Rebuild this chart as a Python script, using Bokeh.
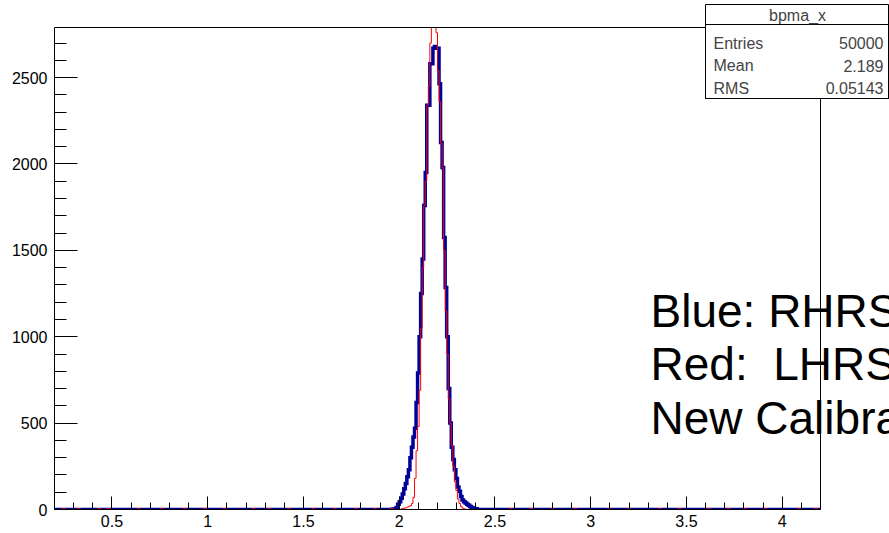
import numpy as np
from bokeh.plotting import figure
from bokeh.models import Range1d, FixedTicker, BoxAnnotation, Label
from bokeh.embed import file_html
from bokeh.resources import INLINE

# ---------------- data ----------------
x_min, x_max, n_bins = 0.2, 4.2, 500
y_max = 2790

# blue histogram (RHRS): counts for bins starting at bin index 220
blue_start_bin = 220
blue_peak = [2, 3, 5, 12, 30, 45, 65, 90, 120, 150,
             190, 230, 300, 360, 420, 470, 620, 790, 1000, 1250,
             1450, 1760, 1950, 2340, 2340, 2580, 2580, 2670, 2680, 2670,
             2670, 2465, 2124, 1979, 1574, 1285, 1000, 700, 500, 360,
             290, 230, 180, 130, 105, 75, 55, 45, 38, 30,
             25, 18, 12, 9, 6, 4]

# red histogram (LHRS): counts for bins starting at bin index 226
red_start_bin = 226
red_peak = [3, 5, 8, 10, 14, 18, 22, 35, 70, 180,
            340, 480, 690, 1050, 1400, 1760, 1900, 2340, 2450, 2700,
            2900, 2950, 2880, 2760, 2540, 2360, 2120, 1980, 1500, 1150,
            900, 640, 500, 370, 250, 160, 110, 60, 35, 18,
            8, 4, 2]

# small red bumps along the baseline (x position of bump, count)
red_tail_x = [0.242, 0.325, 0.430, 0.477, 0.634, 0.754, 0.875, 0.979, 1.084,
              1.235, 1.314, 1.419, 1.544, 1.659, 1.774, 1.868, 1.957,
              2.580, 2.684, 2.794, 2.914, 3.092, 3.192, 3.354, 3.458, 3.610,
              3.715, 3.804, 3.908, 4.086, 4.170]
red_tail_count = [5] * len(red_tail_x)

x_ticks = [0.5, 1.0, 1.5, 2.0, 2.5, 3.0, 3.5, 4.0]
x_tick_labels = ["0.5", "1", "1.5", "2", "2.5", "3", "3.5", "4"]
x_minor = [0.2, 0.3, 0.4, 0.6, 0.7, 0.8, 0.9, 1.1, 1.2, 1.3, 1.4, 1.6, 1.7, 1.8, 1.9,
           2.1, 2.2, 2.3, 2.4, 2.6, 2.7, 2.8, 2.9, 3.1, 3.2, 3.3, 3.4, 3.6, 3.7, 3.8,
           3.9, 4.1, 4.2]
y_ticks = [0, 500, 1000, 1500, 2000, 2500]
y_minor = [100, 200, 300, 400, 600, 700, 800, 900, 1100, 1200, 1300, 1400,
           1600, 1700, 1800, 1900, 2100, 2200, 2300, 2400, 2600, 2700]

stats_title = "bpma_x"
stats_names = ["Entries", "Mean", "RMS"]
stats_values = ["50000", "2.189", "0.05143"]
note_lines = ["Blue: RHRS", "Red: \u00a0LHRS", "New Calibration"]

# ---------------- build histograms ----------------
edges = np.linspace(x_min, x_max, n_bins + 1)
blue = np.zeros(n_bins)
blue[blue_start_bin:blue_start_bin + len(blue_peak)] = blue_peak
red = np.zeros(n_bins)
for xb, c in zip(red_tail_x, red_tail_count):
    b = int((xb - x_min) / (x_max - x_min) * n_bins)
    red[b:b + 2] = c
red[red_start_bin:red_start_bin + len(red_peak)] = red_peak

# ---------------- geometry (pixels) ----------------
FL, FR, FT, FB = 54, 820, 27, 509   # histogram frame
W, H = 889, 533


def sx(px):
    return x_min + (px - FL) / (FR - FL) * (x_max - x_min)


def sy(py):
    return y_max * (FB - py) / (FB - FT)


# the bokeh frame extends to the right and top canvas edges so that the
# stats box and the notes can overflow the histogram frame like in ROOT
p = figure(width=W, height=H, output_backend="svg", toolbar_location=None,
           title=None,
           x_range=Range1d(x_min, sx(W)), y_range=Range1d(0, sy(0)),
           min_border_left=FL, min_border_right=0,
           min_border_top=0, min_border_bottom=H - FB)
p.background_fill_color = "white"
p.border_fill_color = "white"
p.outline_line_color = None
p.xgrid.visible = False
p.ygrid.visible = False

# histograms are clipped at the top of the histogram frame (as ROOT does)
blue_draw = np.minimum(np.append(blue, blue[-1]), y_max)
red_draw = np.minimum(np.append(red, red[-1]), y_max)
p.step(x=edges, y=blue_draw, mode="after",
       line_color="#000099", line_width=3.5, line_join="miter")
p.step(x=edges, y=red_draw, mode="after",
       line_color="#ff0000", line_width=1, line_join="miter")

xa = p.xaxis[0]
xa.bounds = (x_min, x_max)
xa.ticker = FixedTicker(ticks=x_ticks, minor_ticks=x_minor)
xa.major_label_overrides = {t: l for t, l in zip(x_ticks, x_tick_labels)}
xa.major_tick_in = 13
xa.major_tick_out = 0
xa.minor_tick_in = 7
xa.minor_tick_out = 0
xa.major_label_standoff = 5
ya = p.yaxis[0]
ya.bounds = (0, y_max)
ya.ticker = FixedTicker(ticks=y_ticks, minor_ticks=y_minor)
ya.major_tick_in = 23
ya.major_tick_out = 0
ya.minor_tick_in = 12
ya.minor_tick_out = 0
ya.major_label_standoff = 7
for ax in (xa, ya):
    ax.axis_line_color = "black"
    ax.major_tick_line_color = "black"
    ax.minor_tick_line_color = "black"
    ax.major_label_text_font = "Liberation Sans"
    ax.major_label_text_font_size = "16px"
    ax.major_label_text_color = "black"

# histogram frame
p.add_layout(BoxAnnotation(left=x_min, right=x_max, bottom=0, top=y_max,
                           fill_alpha=0.0, line_color="black", line_width=1,
                           line_alpha=1.0))

# notes text
for i, line in enumerate(note_lines):
    p.add_layout(Label(x=sx(650), y=sy(310 + 53.5 * i), text=line,
                       text_font="Liberation Sans", text_font_size="46px",
                       text_color="black", text_align="left",
                       text_baseline="alphabetic"))

# stats box
p.add_layout(BoxAnnotation(left=sx(705), right=sx(888), top=sy(4), bottom=sy(98),
                           fill_color="white", fill_alpha=1.0, line_color="black",
                           line_width=1, line_alpha=1.0, level="overlay"))
p.add_layout(BoxAnnotation(left=sx(705), right=sx(888), top=sy(24), bottom=sy(98),
                           fill_alpha=0.0, line_color="black", line_width=1,
                           line_alpha=1.0, level="overlay"))
p.add_layout(Label(x=sx(797), y=sy(14.5), text=stats_title, text_font="Liberation Sans",
                   text_font_size="16px", text_align="center",
                   text_baseline="alphabetic", level="overlay"))
for i, (nm, vv) in enumerate(zip(stats_names, stats_values)):
    yy = sy(42.5 + 22.5 * i)
    p.add_layout(Label(x=sx(713), y=yy, text=nm, text_font="Liberation Sans",
                       text_font_size="16px", text_align="left",
                       text_baseline="alphabetic", level="overlay"))
    p.add_layout(Label(x=sx(883), y=yy, text=vv, text_font="Liberation Sans",
                       text_font_size="16px", text_align="right",
                       text_baseline="alphabetic", level="overlay"))

open("out.html", "w").write(file_html(p, INLINE))
